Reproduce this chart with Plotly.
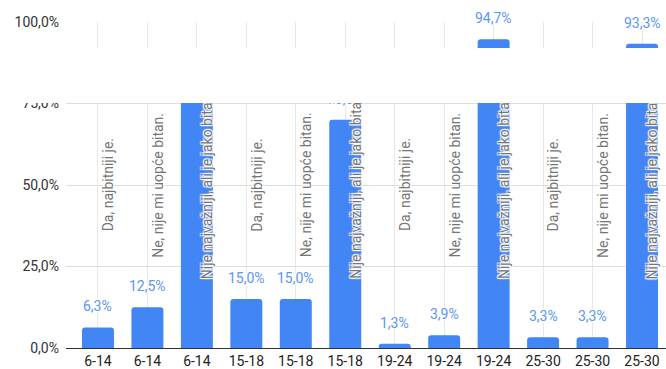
import plotly.graph_objects as go

# Age groups (one bar per answer within each group)
categories = ["6-14", "6-14", "6-14", "15-18", "15-18", "15-18",
              "19-24", "19-24", "19-24", "25-30", "25-30", "25-30"]
answers = ["Da, najbitniji je.", "Ne, nije mi uopće bitan.", "Nije najvažniji, ali je jako bitan.",
           "Da, najbitniji je.", "Ne, nije mi uopće bitan.", "Nije najvažniji, ali je jako bitan.",
           "Da, najbitniji je.", "Ne, nije mi uopće bitan.", "Nije najvažniji, ali je jako bitan.",
           "Da, najbitniji je.", "Ne, nije mi uopće bitan.", "Nije najvažniji, ali je jako bitan."]
values = [6.3, 12.5, 81.2, 15.0, 15.0, 70.0, 1.3, 3.9, 94.7, 3.3, 3.3, 93.3]
y_ticks = [0, 25, 50, 75, 100]
y_ticktext = ["0,0%", "25,0%", "50,0%", "75,0%", "100,0%"]

BAR = "#4285f4"
LABEL_BLUE = "#5b95f6"
HALO = "1px 1px 1px #fff, -1px -1px 1px #fff, 1px -1px 1px #fff, -1px 1px 1px #fff, 0 0 2px #fff"


def pct(v):
    return f"{v:.1f}".replace(".", ",") + "%"


xs = list(range(len(categories)))

fig = go.Figure(go.Bar(
    x=xs, y=values, width=0.646,
    marker=dict(color=BAR, line=dict(width=0)),
    hoverinfo="skip",
))

annotations = []
# value labels above each bar
for x, v in zip(xs, values):
    annotations.append(dict(
        x=x, y=v, xref="x", yref="y", text=pct(v), showarrow=False,
        yanchor="middle", yshift=21,
        font=dict(family="Roboto", size=14, color=LABEL_BLUE, shadow=HALO),
    ))
# rotated answer labels
for x, a in zip(xs, answers):
    annotations.append(dict(
        x=x + 0.21, y=50, xref="x", yref="y", text=a, showarrow=False,
        textangle=-90, xanchor="center", yanchor="middle",
        font=dict(family="Roboto", size=14, color="#757575", shadow=HALO),
    ))
# white strip across the upper part of the chart
annotations.append(dict(
    x=0.445, y=(350 - 48) / 328, xref="paper", yref="paper",
    xanchor="center", yanchor="top", text=" ", showarrow=False,
    width=720, height=55, bgcolor="#ffffff", borderpad=0, borderwidth=0,
))

fig.update_layout(
    width=666, height=369,
    margin=dict(l=66, r=0, t=22, b=19),
    paper_bgcolor="#ffffff", plot_bgcolor="#ffffff",
    barcornerradius=3,
    showlegend=False,
    annotations=annotations,
    font=dict(family="Roboto", size=14, color="#222222"),
    xaxis=dict(
        range=[-0.646, 11.485], tickmode="array", tickvals=xs, ticktext=categories,
        showgrid=True, gridcolor="#e8e8e8", gridwidth=1,
        showline=True, linecolor="#333333", linewidth=1.3,
        zeroline=False, ticks="", fixedrange=True,
        tickfont=dict(family="Roboto", size=14, color="#222222"),
    ),
    yaxis=dict(
        range=[0, 100], tickmode="array", tickvals=y_ticks, ticktext=y_ticktext,
        showgrid=True, gridcolor="#dddddd", gridwidth=1,
        zeroline=False, ticks="", ticklabelstandoff=6, fixedrange=True,
        tickfont=dict(family="Roboto", size=14, color="#333333"),
    ),
)

fig.write_html("out.html", config={"displayModeBar": False})
